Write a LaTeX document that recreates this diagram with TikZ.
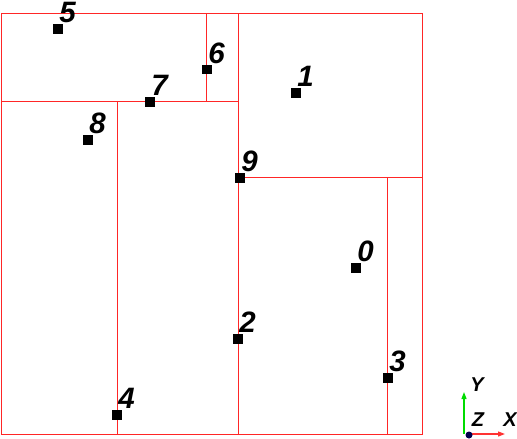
\documentclass[tikz,border=0pt]{standalone}
\usepackage{fontspec}
\setmainfont{Liberation Sans}
\usetikzlibrary{arrows.meta}
\begin{document}
\begin{tikzpicture}[x=1pt,y=-1pt,
  cell/.style={draw=red!85!white, line width=0.7pt},
  marker/.style={fill=black, inner sep=0pt, minimum size=9.5pt, draw=none},
  lbl/.style={font=\fontsize{29.5}{30}\selectfont\bfseries\itshape, inner sep=0pt, anchor=center},
  axlbl/.style={font=\fontsize{20}{20}\selectfont\bfseries\itshape, inner sep=0pt, anchor=center}]
\useasboundingbox (0,0) rectangle (517,439);
% cells
\draw[cell] (1,13) rectangle (422,434);
\draw[cell] (1,101) -- (238,101);
\draw[cell] (238,13) -- (238,434);
\draw[cell] (206,13) -- (206,101);
\draw[cell] (117,101) -- (117,434);
\draw[cell] (238,177) -- (422,177);
\draw[cell] (387,177) -- (387,434);
% points
\foreach \n/\x/\y in {0/356/268, 1/296/93, 2/238/339, 3/388/378, 4/117/415, 5/58/29, 6/207/69.5, 7/150/102, 8/88/140, 9/240/178}{
  \node[marker] (p\n) at (\x,\y) {};
  \node[lbl] (l\n) at (\x+9.5,\y-16.5) {\n};
}
% axes
\coordinate (o) at (467,434);
\coordinate (xe) at (505,434);
\coordinate (ye) at (464,392);
\coordinate (yo) at (464,434);
\draw[green!80!black!70!green, line width=1.2pt, -{Triangle[length=7pt,width=5pt]}] (yo) -- (ye);
\draw[red!80!white, line width=1.2pt, -{Triangle[length=7pt,width=5pt]}] (o) -- (xe);
\node[circle, fill=blue!30!black, inner sep=0pt, minimum size=7pt] (org) at (469,435) {};
\node[axlbl] (ly) at (477,385) {Y};
\node[axlbl] (lz) at (478,420) {Z};
\node[axlbl] (lx) at (510,420) {X};
\end{tikzpicture}
\end{document}
